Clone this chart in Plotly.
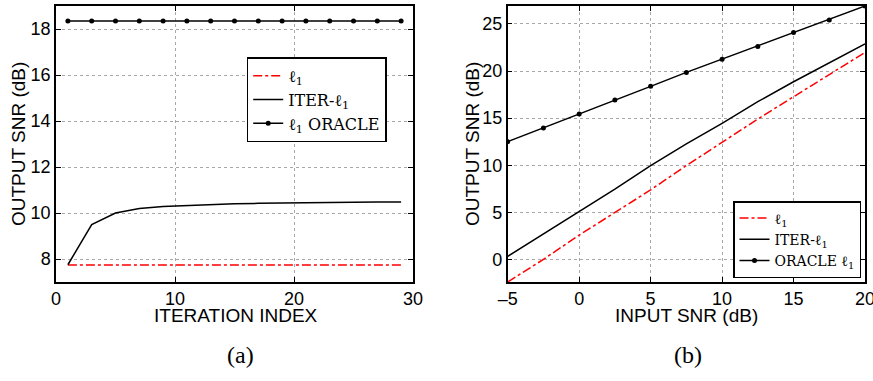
import plotly.graph_objects as go

# (a) output SNR vs iteration index
iter_idx = [1, 3, 5, 7, 9, 11, 13, 15, 17, 19, 21, 23, 25, 27, 29]
l1_iter = [7.74] * 15
iterl1_iter = [7.75, 9.5, 10.0, 10.2, 10.28, 10.33, 10.37, 10.4, 10.42, 10.44,
               10.45, 10.46, 10.47, 10.48, 10.48]
oracle_iter = [18.35] * 15

# (b) output SNR vs input SNR
input_snr = [-5, -2.5, 0, 2.5, 5, 7.5, 10, 12.5, 15, 17.5, 20]
l1_snr = [-2.4, 0.0, 2.58, 4.98, 7.38, 9.96, 12.43, 14.9, 17.27, 19.6, 21.97]
iterl1_snr = [0.32, 2.7, 5.13, 7.46, 9.96, 12.26, 14.45, 16.74, 18.86, 20.87, 22.88]
oracle_snr = [12.5, 13.95, 15.43, 16.92, 18.37, 19.85, 21.26, 22.6, 24.09, 25.42, 26.9]

SANS = "Liberation Sans, Arial, sans-serif"
SERIF = "DejaVu Serif, Liberation Serif, serif"
CAP_SERIF = "Liberation Serif, serif"
L1 = "ℓ<sub>1</sub>"

W, H = 873, 381

fig = go.Figure()

red = dict(color="red", width=1.5, dash="dashdot")
blk = dict(color="black", width=1.5)

fig.add_trace(go.Scatter(x=iter_idx, y=l1_iter, mode="lines", line=red,
                         name=L1, legend="legend", xaxis="x", yaxis="y"))
fig.add_trace(go.Scatter(x=iter_idx, y=iterl1_iter, mode="lines", line=blk,
                         name="ITER-" + L1, legend="legend", xaxis="x", yaxis="y"))
fig.add_trace(go.Scatter(x=iter_idx, y=oracle_iter, mode="lines+markers", line=blk,
                         marker=dict(color="black", size=5),
                         name=L1 + " ORACLE", legend="legend", xaxis="x", yaxis="y"))

fig.add_trace(go.Scatter(x=input_snr, y=l1_snr, mode="lines", line=red,
                         name=L1, legend="legend2", xaxis="x2", yaxis="y2"))
fig.add_trace(go.Scatter(x=input_snr, y=iterl1_snr, mode="lines", line=blk,
                         name="ITER-" + L1, legend="legend2", xaxis="x2", yaxis="y2"))
fig.add_trace(go.Scatter(x=input_snr, y=oracle_snr, mode="lines+markers", line=blk,
                         marker=dict(color="black", size=5),
                         name="ORACLE " + L1, legend="legend2", xaxis="x2", yaxis="y2"))

axis_common = dict(
    showline=True, linecolor="black", linewidth=1.5, mirror="ticks",
    ticks="inside", ticklen=5, tickcolor="black", tickwidth=1,
    showgrid=True, gridcolor="#a8a8a8", griddash="dot", gridwidth=1,
    zeroline=False, automargin=False, ticklabeloverflow="allow",
    tickfont=dict(family=SANS, size=18, color="black"),
)

y_dom = [1 - 282 / H, 1 - 6 / H]
x1_dom = [56 / W, 413 / W]
x2_dom = [507.7 / W, 865 / W]


def label(text, x, y, angle=0, size=19, family=SANS):
    return dict(text=text, x=x / W, y=1 - y / H, xref="paper", yref="paper",
                xanchor="center", yanchor="middle", showarrow=False,
                textangle=angle, font=dict(family=family, size=size, color="black"))


fig.update_layout(
    width=W, height=H,
    margin=dict(l=0, r=0, t=0, b=0),
    paper_bgcolor="white", plot_bgcolor="white",
    xaxis=dict(axis_common, domain=x1_dom, range=[0, 30],
               tickvals=[0, 10, 20, 30], anchor="y"),
    yaxis=dict(axis_common, domain=y_dom, range=[7, 19],
               tickvals=[8, 10, 12, 14, 16, 18], anchor="x"),
    xaxis2=dict(axis_common, domain=x2_dom, range=[-5, 20],
                tickvals=[-5, 0, 5, 10, 15, 20],
                ticktext=["–5", "0", "5", "10", "15", "20"], anchor="y2"),
    yaxis2=dict(axis_common, domain=y_dom, range=[-2.4, 26.9],
                tickvals=[0, 5, 10, 15, 20, 25], anchor="x2"),
    legend=dict(x=246.7 / W, y=1 - 57.3 / H, xanchor="left", yanchor="top",
                bgcolor="white", bordercolor="black", borderwidth=1.5,
                font=dict(family=SERIF, size=16, color="black"),
                itemwidth=30, tracegroupgap=0),
    legend2=dict(x=861 / W, y=1 - 278 / H, xanchor="right", yanchor="bottom",
                 bgcolor="white", bordercolor="black", borderwidth=1.5,
                 font=dict(family=SERIF, size=14, color="black"),
                 itemwidth=30, tracegroupgap=0),
    annotations=[
        label("ITERATION INDEX", 235.5, 315),
        label("INPUT SNR (dB)", 686, 315),
        label("OUTPUT SNR (dB)", 18, 144, angle=-90),
        label("OUTPUT SNR (dB)", 472, 144, angle=-90),
        label("(a)", 240, 355, size=24, family=CAP_SERIF),
        label("(b)", 688, 355, size=24, family=CAP_SERIF),
    ],
    showlegend=True,
)

fig.write_html("out.html")
